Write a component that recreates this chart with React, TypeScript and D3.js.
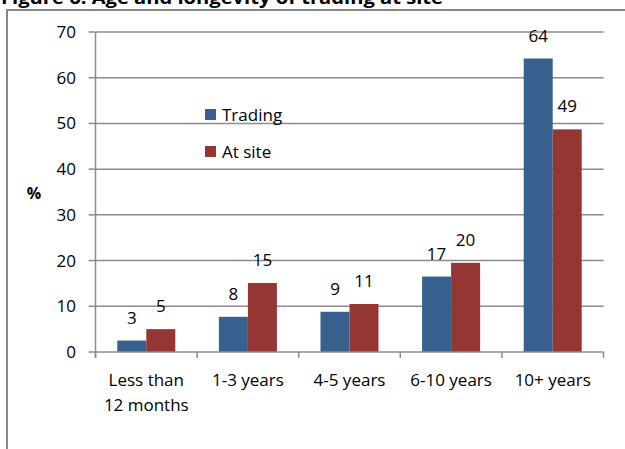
import React from "react";
import * as d3 from "d3";

const categories = ["Less than|12 months", "1-3 years", "4-5 years", "6-10 years", "10+ years"];
const trading = [2.5, 7.7, 8.8, 16.5, 64.2];
const atSite = [5.0, 15.1, 10.5, 19.5, 48.7];
const tradingLabels = ["3", "8", "9", "17", "64"];
const atSiteLabels = ["5", "15", "11", "20", "49"];
const yTicks = [0, 10, 20, 30, 40, 50, 60, 70];
const seriesNames = ["Trading", "At site"];

const W = 625;
const H = 449;
const FONT = "'Open Sans', 'Liberation Sans', sans-serif";
const BLUE = "#37608f";
const RED = "#943634";
const GRID = "#8c8c8c";

const App: React.FC = () => {
  const plot = { left: 95.5, right: 603.5, top: 32, bottom: 352 };

  const x = d3.scaleBand<number>()
    .domain(d3.range(categories.length))
    .range([plot.left, plot.right]);

  const y = d3.scaleLinear().domain([0, 70]).range([plot.bottom, plot.top]);

  const barW = 29;
  const series = [
    { values: trading, labels: tradingLabels, color: BLUE, off: -barW },
    { values: atSite, labels: atSiteLabels, color: RED, off: 0 },
  ];

  return (
    <svg
      width={W}
      height={H}
      style={{ position: "absolute", left: 0, top: 0, background: "#fff" }}
      fontFamily={FONT}
    >
      {/* title, clipped at top of page */}
      <text x={1} y={4} fontSize={17} fontWeight="bold" textLength={442} lengthAdjust="spacingAndGlyphs">
        Figure 6: Age and longevity of trading at site
      </text>

      {/* chart frame */}
      <rect x={7} y={10} width={W + 20} height={H + 20} fill="none" stroke="#878787" strokeWidth={2} />

      {/* gridlines */}
      {yTicks.filter(t => t > 0).map(t => (
        <line key={t} x1={plot.left} x2={plot.right} y1={y(t)} y2={y(t)} stroke={GRID} strokeWidth={1.5} />
      ))}

      {/* bars */}
      {series.map((s, si) =>
        s.values.map((v, i) => {
          const cx = (x(i) as number) + x.bandwidth() / 2;
          return (
            <g key={`${si}-${i}`}>
              <rect x={cx + s.off} y={y(v)} width={barW} height={y(0) - y(v)} fill={s.color} />
              <text x={cx + s.off + barW / 2} y={y(v) - 17} fontSize={17} textAnchor="middle" fill="#000">
                {s.labels[i]}
              </text>
            </g>
          );
        })
      )}

      {/* y axis */}
      <line x1={plot.left} x2={plot.left} y1={plot.top} y2={plot.bottom + 6} stroke={GRID} strokeWidth={1.5} />
      {yTicks.map(t => (
        <g key={t}>
          <line x1={plot.left - 7} x2={plot.left} y1={y(t)} y2={y(t)} stroke={GRID} strokeWidth={1.5} />
          <text x={76} y={y(t) + 6} fontSize={17} textAnchor="end" fill="#000">{t}</text>
        </g>
      ))}

      {/* x axis */}
      <line x1={plot.left} x2={plot.right} y1={plot.bottom} y2={plot.bottom} stroke={GRID} strokeWidth={1.5} />
      {d3.range(categories.length + 1).map(i => {
        const xx = plot.left + i * x.step();
        return <line key={i} x1={xx} x2={xx} y1={plot.bottom} y2={plot.bottom + 6} stroke={GRID} strokeWidth={1.5} />;
      })}
      {categories.map((c, i) => {
        const cx = (x(i) as number) + x.bandwidth() / 2;
        return (
          <text key={c} x={cx} y={386} fontSize={17} textAnchor="middle" fill="#000">
            {c.split("|").map((ln, j) => (
              <tspan key={j} x={cx} dy={j === 0 ? 0 : 25}>{ln}</tspan>
            ))}
          </text>
        );
      })}

      {/* axis title */}
      <text x={34} y={199} fontSize={16} fontWeight="bold" textAnchor="middle">%</text>

      {/* legend */}
      {seriesNames.map((n, i) => (
        <g key={n} transform={`translate(205,${109 + i * 37})`}>
          <rect x={0} y={0} width={11} height={11} fill={i === 0 ? BLUE : RED} />
          <text x={17} y={12} fontSize={17} fill="#000">{n}</text>
        </g>
      ))}
    </svg>
  );
};

export default App;
